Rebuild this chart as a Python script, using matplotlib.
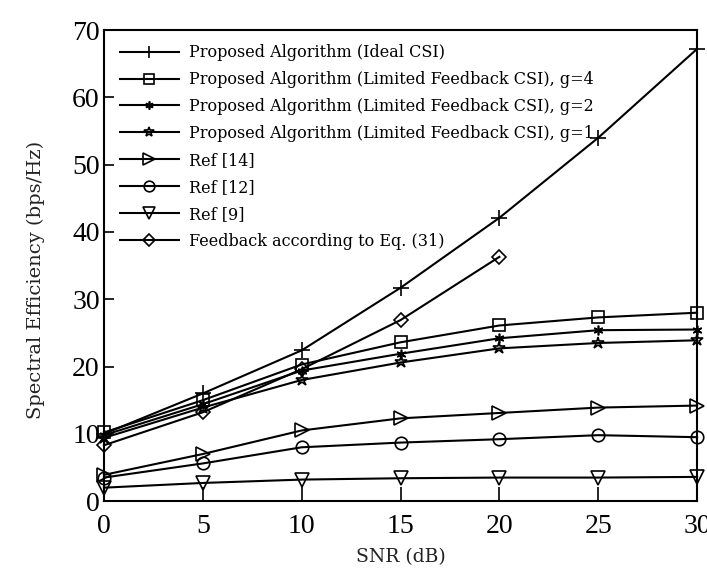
import matplotlib
matplotlib.use("Agg")
import matplotlib.pyplot as plt

snr = [0, 5, 10, 15, 20, 25, 30]
snr_eq31 = [0, 5, 10, 15, 20]

ideal_csi = [10.0, 16.0, 22.4, 31.7, 42.1, 54.0, 67.2]
limited_g4 = [10.2, 15.0, 20.3, 23.6, 26.1, 27.3, 28.0]
limited_g2 = [9.8, 14.4, 19.4, 21.9, 24.2, 25.4, 25.5]
limited_g1 = [9.4, 13.9, 18.0, 20.6, 22.7, 23.5, 23.9]
ref14 = [3.9, 7.0, 10.5, 12.3, 13.1, 13.9, 14.2]
ref12 = [3.5, 5.6, 8.0, 8.7, 9.2, 9.8, 9.5]
ref9 = [2.0, 2.7, 3.2, 3.4, 3.5, 3.5, 3.6]
eq31 = [8.3, 13.2, 19.6, 26.9, 36.3]

labels = [
    "Proposed Algorithm (Ideal CSI)",
    "Proposed Algorithm (Limited Feedback CSI), g=4",
    "Proposed Algorithm (Limited Feedback CSI), g=2",
    "Proposed Algorithm (Limited Feedback CSI), g=1",
    "Ref [14]",
    "Ref [12]",
    "Ref [9]",
    "Feedback according to Eq. (31)",
]

plt.rcParams['font.family'] = ['Liberation Serif', 'DejaVu Serif']
text_font = ['DejaVu Serif']

fig = plt.figure(figsize=(7.07, 5.78), dpi=100)
ax = fig.add_axes([0.147, 0.133, 0.839, 0.815])

series = [
    (snr, ideal_csi, "+", 11),
    (snr, limited_g4, "s", 9),
    (snr, limited_g2, (6, 2, 0), 7),
    (snr, limited_g1, "*", 9),
    (snr, ref14, ">", 10),
    (snr, ref12, "o", 9),
    (snr, ref9, "v", 10),
    (snr_eq31, eq31, "D", 7),
]

for (xs, ys, m, ms), lab in zip(series, labels):
    filled = m in ("+", (6, 2, 0))
    ax.plot(xs, ys, color="black", linewidth=1.5, marker=m, markersize=ms,
            markerfacecolor="black" if filled else "none",
            markeredgecolor="black", markeredgewidth=1.2,
            label=lab, clip_on=False)

ax.set_xlim(0, 30)
ax.set_ylim(0, 70)
ax.set_xticks(snr)
ax.set_yticks(range(0, 71, 10))
ax.tick_params(axis="both", direction="in", labelsize=20, width=1.2)
ax.tick_params(axis="x", length=10, pad=9)
ax.tick_params(axis="y", length=7, pad=3)
for s in ax.spines.values():
    s.set_linewidth(1.5)

ax.set_xlabel("SNR (dB)", fontsize=13.5, family=text_font, color="#222222")
ax.xaxis.set_label_coords(0.5, -0.1)
ax.set_ylabel("Spectral Efficiency (bps/Hz)", fontsize=14, family=text_font,
              color="#222222")
ax.yaxis.set_label_coords(-0.1, 0.47)

# legend sits inside the box, top left, no frame
ax.legend(loc="upper left", frameon=False, prop={'family': text_font, 'size': 11.5},
          handlelength=3.7, handletextpad=0.6, labelspacing=0.62, markerscale=0.85,
          borderpad=0.0, borderaxespad=0.0, bbox_to_anchor=(0.027, 0.97))

fig.savefig("out.png", dpi=100)
